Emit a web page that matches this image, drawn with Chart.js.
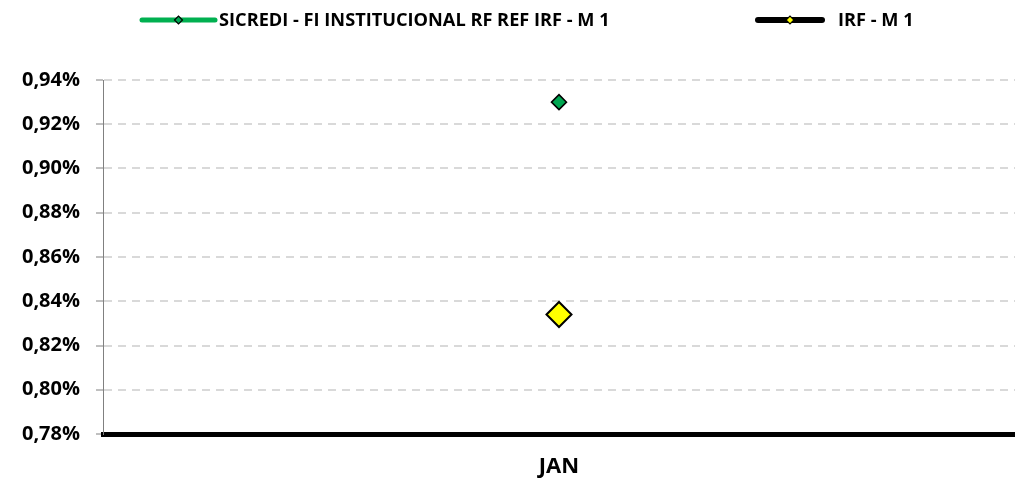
<!DOCTYPE html>
<html>
<head>
<meta charset="utf-8">
<script src="https://cdn.jsdelivr.net/npm/chart.js@4.4.1/dist/chart.umd.min.js"></script>
<style>
  html, body { margin: 0; padding: 0; background: #fff; }
  #chart { display: block; }
</style>
</head>
<body>
<canvas id="chart" width="1015" height="481"></canvas>
<script>
// chart data
const categories = ['JAN'];
const seriesNames = ['SICREDI - FI INSTITUCIONAL RF REF IRF - M 1', 'IRF - M 1'];
const sicrediValues = [0.930];
const irfValues = [0.834];
const yTickValues = [0.78, 0.80, 0.82, 0.84, 0.86, 0.88, 0.90, 0.92, 0.94];

const FONT = '"Open Sans", "Liberation Sans", sans-serif';

// legend drawn like the spreadsheet one: long line with a diamond in the middle
const legendItems = [
    { lineFrom: 142, lineTo: 215, textX: 219, lineColor: '#00b050', lineWidth: 5, marker: '#00a651', markerR: 4 },
    { lineFrom: 758, lineTo: 822, textX: 838, lineColor: '#000000', lineWidth: 6, marker: '#ffff00', markerR: 4 },
];

function drawDiamond(ctx, x, y, r, fill, stroke, width) {
    ctx.beginPath();
    ctx.moveTo(x - r, y);
    ctx.lineTo(x, y - r);
    ctx.lineTo(x + r, y);
    ctx.lineTo(x, y + r);
    ctx.closePath();
    ctx.fillStyle = fill;
    ctx.fill();
    ctx.lineWidth = width;
    ctx.strokeStyle = stroke;
    ctx.stroke();
}

const legendPlugin = {
    id: 'sheetLegend',
    afterDraw(chart) {
        const ctx = chart.ctx;
        const y = 20;
        ctx.save();
        legendItems.forEach((item, i) => {
            ctx.beginPath();
            ctx.lineCap = 'round';
            ctx.lineWidth = item.lineWidth;
            ctx.strokeStyle = item.lineColor;
            ctx.moveTo(item.lineFrom, y);
            ctx.lineTo(item.lineTo, y);
            ctx.stroke();
            drawDiamond(ctx, (item.lineFrom + item.lineTo) / 2, y, item.markerR, item.marker, '#000', 1.2);
            ctx.font = 'bold 18.2px ' + FONT;
            ctx.fillStyle = '#000';
            ctx.textBaseline = 'middle';
            ctx.textAlign = 'left';
            ctx.fillText(seriesNames[i], item.textX, y + 1);
        });
        ctx.restore();
    }
};

const pct = v => v.toFixed(2).replace('.', ',') + '%';

new Chart(document.getElementById('chart'), {
    type: 'line',
    data: {
        labels: categories,
        datasets: [
            {
                label: seriesNames[0],
                data: sicrediValues,
                borderColor: '#00b050',
                borderWidth: 5,
                pointStyle: 'rectRot',
                pointRadius: 7.5,
                pointBackgroundColor: '#00a651',
                pointBorderColor: '#000',
                pointBorderWidth: 1.5,
                showLine: false,
            },
            {
                label: seriesNames[1],
                data: irfValues,
                borderColor: '#000',
                borderWidth: 6,
                pointStyle: 'rectRot',
                pointRadius: 12.5,
                pointBackgroundColor: '#ffff00',
                pointBorderColor: '#000',
                pointBorderWidth: 2,
                showLine: false,
            },
        ]
    },
    options: {
        responsive: false,
        animation: false,
        // plot area runs slightly past the right edge, as in the original sheet
        layout: { autoPadding: false, padding: { top: 80, left: 0, right: -10, bottom: 0 } },
        plugins: {
            legend: { display: false },
            tooltip: { enabled: false },
        },
        scales: {
            x: {
                offset: true,
                grid: { display: false, drawTicks: false },
                border: { color: '#000', width: 5 },
                ticks: {
                    padding: 20,
                    color: '#000',
                    font: { family: FONT, size: 22, weight: 'bold' },
                },
                afterFit: scale => {
                    scale.paddingLeft = 0;
                    scale.paddingRight = 0;
                    scale.height = 47;
                },
            },
            y: {
                min: 0.78,
                max: 0.94,
                afterBuildTicks: scale => {
                    scale.ticks = yTickValues.map(v => ({ value: v }));
                },
                afterFit: scale => {
                    scale.width = 103;
                },
                grid: {
                    color: '#d9d9d9',
                    lineWidth: 2,
                    tickColor: '#808080',
                    tickLength: 7,
                    tickWidth: 1,
                },
                border: { color: '#808080', width: 1, dash: [8, 6] },
                ticks: {
                    padding: 16,
                    color: '#000',
                    font: { family: FONT, size: 20, weight: 'bold' },
                    callback: v => pct(v),
                },
            },
        },
    },
    plugins: [legendPlugin],
});
</script>
</body>
</html>
